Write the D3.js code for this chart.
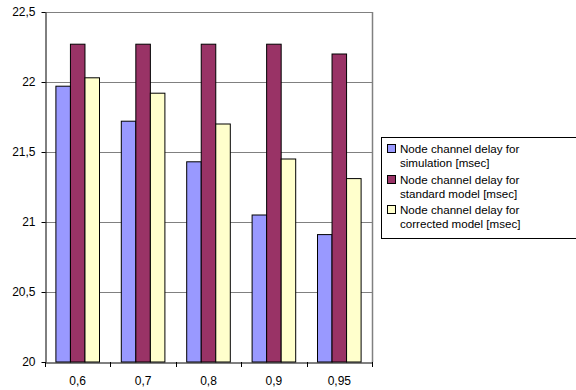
<!DOCTYPE html>
<html><head><meta charset="utf-8">
<script src="https://cdn.jsdelivr.net/npm/d3@7"></script>
<style>body{margin:0;background:#fff}svg{display:block;font-family:Arial,"Liberation Sans",sans-serif}</style>
</head><body><svg id="c" width="576" height="390"></svg>
<script>
const categories = ["0,6","0,7","0,8","0,9","0,95"];
const simulation = [21.97, 21.72, 21.43, 21.05, 20.91];
const standard   = [22.27, 22.27, 22.27, 22.27, 22.20];
const corrected  = [22.03, 21.92, 21.70, 21.45, 21.31];
const seriesNames = ["Node channel delay for simulation [msec]","Node channel delay for standard model [msec]","Node channel delay for corrected model [msec]"];
const legendLines = [["Node channel delay for","simulation [msec]"],["Node channel delay for","standard model [msec]"],["Node channel delay for","corrected model [msec]"]];
const colors = ["#9999FF","#993366","#FFFFCC"];
const yTicks = [20, 20.5, 21, 21.5, 22, 22.5];
const series = [simulation, standard, corrected];

const svg = d3.select("#c");
const L = 45, R = 372, T = 12, B = 362;
const x = d3.scaleBand().domain(categories).range([L, R]).paddingInner(0).paddingOuter(0);
const y = d3.scaleLinear().domain([20, 22.5]).range([B, T]);
const fmt = v => String(v).replace(".", ",");

// grid
svg.append("g").selectAll("line").data(yTicks.slice(1)).join("line")
  .attr("x1", L).attr("x2", R).attr("y1", d => Math.round(y(d)) + 0.5).attr("y2", d => Math.round(y(d)) + 0.5)
  .attr("stroke", "#808080").attr("stroke-width", 1);
// right border
svg.append("line").attr("x1", R + 0.5).attr("x2", R + 0.5).attr("y1", T).attr("y2", B)
  .attr("stroke", "#808080").attr("stroke-width", 1.5);

// bars
const bw = x.bandwidth() / (3 + 1.5);
series.forEach((vals, si) => {
  svg.append("g").selectAll("rect").data(vals).join("rect")
    .attr("x", (d, i) => x(categories[i]) + bw * 0.75 + si * bw)
    .attr("y", d => y(d))
    .attr("width", bw)
    .attr("height", d => y(20) - y(d))
    .attr("fill", colors[si]).attr("stroke", "#000").attr("stroke-width", 1);
});

// y axis
const ya = d3.axisLeft(y).tickValues(yTicks).tickFormat(fmt).tickSize(4).tickSizeOuter(0);
const gy = svg.append("g").attr("transform", `translate(${L + 0.5},0)`).call(ya);
gy.select(".domain").attr("stroke", "#000");
gy.selectAll(".tick line").attr("stroke", "#000");
gy.selectAll("text").attr("font-size", 12).attr("fill", "#000").attr("font-family", "Arial,'Liberation Sans',sans-serif").attr("x", -10);

// x axis
const xa = d3.axisBottom(x).tickSize(0).tickSizeOuter(0);
const gx = svg.append("g").attr("transform", `translate(0,${B + 0.5})`).call(xa);
gx.select(".domain").attr("stroke", "#000");
gx.selectAll("text").attr("font-size", 12).attr("fill", "#000").attr("font-family", "Arial,'Liberation Sans',sans-serif").attr("dy", "1.6em");
// boundary ticks
const bounds = categories.map(c => x(c)).concat([R]);
svg.append("g").selectAll("line").data(bounds).join("line")
  .attr("x1", d => Math.round(d) + 0.5).attr("x2", d => Math.round(d) + 0.5)
  .attr("y1", B).attr("y2", B + 5).attr("stroke", "#000");

// legend
const lg = svg.append("g");
lg.append("rect").attr("x", 381.5).attr("y", 137.5).attr("width", 200).attr("height", 101)
  .attr("fill", "#fff").attr("stroke", "#000").attr("stroke-width", 1);
legendLines.forEach((lines, i) => {
  const base = 153 + i * 30.5;
  lg.append("rect").attr("x", 387.5).attr("y", Math.round(base - 9) + 0.5).attr("width", 8).attr("height", 8)
    .attr("fill", colors[i]).attr("stroke", "#000");
  lines.forEach((t, j) => {
    lg.append("text").attr("x", 400).attr("y", base + j * 14).text(t)
      .attr("font-size", 11.6).attr("fill", "#000");
  });
});
</script></body></html>
